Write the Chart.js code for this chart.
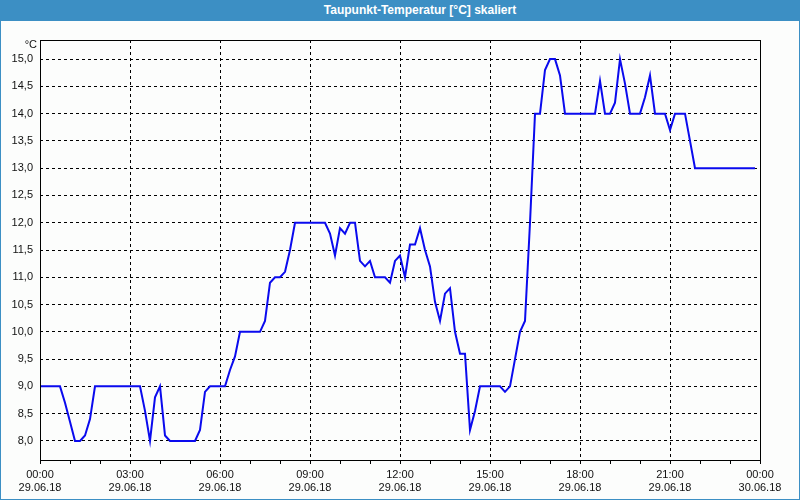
<!DOCTYPE html>
<html>
<head>
<meta charset="utf-8">
<script src="https://cdn.jsdelivr.net/npm/chart.js@4.4.1/dist/chart.umd.min.js"></script>
<style>
  html, body { margin: 0; padding: 0; }
  body { width: 800px; height: 500px; overflow: hidden; background: #fcfdfc; }
  #frame { position: absolute; left: 0; top: 0; width: 800px; height: 500px; box-sizing: border-box;
           border: 1px solid #3c8fc4; background: #fcfdfc; }
  #titlebar { position: absolute; left: 0; top: 0; width: 800px; height: 21px; background: #3c8fc4; }
  #title { position: absolute; left: 420px; top: 3px; transform: translateX(-50%); white-space: nowrap;
           font: bold 12px "Liberation Sans", Arial, sans-serif; color: #ffffff; }
  #unit { position: absolute; left: 23px; top: 38px; width: 14px; text-align: right;
          font: 11px "Liberation Sans", Arial, sans-serif; color: #111; }
  #c { position: absolute; left: 0; top: 0; }
</style>
</head>
<body>
<div id="frame"></div>
<canvas id="c" width="800" height="500"></canvas>
<div id="titlebar"><div id="title">Taupunkt-Temperatur [°C] skaliert</div></div>
<div id="unit">°C</div>
<script>
// Sampling: one value every 10 minutes from 29.06.18 00:00
const sampleMinutes = 10;
const dewPoint = [
  9.0, 9.0, 9.0, 9.0, 9.0, 8.7, 8.35, 8.0, 8.0, 8.1, 8.4,
  9.0, 9.0, 9.0, 9.0, 9.0, 9.0, 9.0, 9.0, 9.0, 9.0,
  8.55, 8.0, 8.8, 9.0, 8.1,
  8.0, 8.0, 8.0, 8.0, 8.0, 8.0,
  8.2, 8.9,
  9.0, 9.0, 9.0, 9.0,
  9.3, 9.55,
  10.0, 10.0, 10.0, 10.0, 10.0,
  10.2, 10.9, 11.0, 11.0, 11.1, 11.5,
  12.0, 12.0, 12.0, 12.0, 12.0, 12.0, 12.0,
  11.8, 11.4, 11.9, 11.8, 12.0, 12.0,
  11.3, 11.2, 11.3,
  11.0, 11.0, 11.0,
  10.9, 11.3, 11.4, 11.0, 11.6, 11.6, 11.9, 11.5, 11.2,
  10.55, 10.2, 10.7, 10.8, 10.0, 9.6, 9.6, 8.2, 8.55,
  9.0, 9.0, 9.0, 9.0, 9.0,
  8.9, 9.0, 9.5, 10.0, 10.2, 12.0,
  14.0, 14.0, 14.8, 15.0, 15.0, 14.7,
  14.0, 14.0, 14.0, 14.0, 14.0, 14.0, 14.0,
  14.6, 14.0, 14.0, 14.2, 15.0, 14.55,
  14.0, 14.0, 14.0,
  14.3, 14.7,
  14.0, 14.0, 14.0,
  13.7,
  14.0, 14.0, 14.0,
  13.5,
  13.0, 13.0, 13.0, 13.0, 13.0, 13.0, 13.0, 13.0, 13.0, 13.0, 13.0, 13.0, 13.0
];
const xTickHours = [0,1,2,3,4,5,6,7,8,9,10,11,12,13,14,15,16,17,18,19,20,21,22,23,24];
const xLabelTimes = {0:'00:00',3:'03:00',6:'06:00',9:'09:00',12:'12:00',15:'15:00',18:'18:00',21:'21:00',24:'00:00'};
const xLabelDates = {0:'29.06.18',3:'29.06.18',6:'29.06.18',9:'29.06.18',12:'29.06.18',15:'29.06.18',18:'29.06.18',21:'29.06.18',24:'30.06.18'};
const yTicks = [8.0, 8.5, 9.0, 9.5, 10.0, 10.5, 11.0, 11.5, 12.0, 12.5, 13.0, 13.5, 14.0, 14.5, 15.0];
const yMin = 7.65, yMax = 15.35;

const points = dewPoint.map((v, i) => ({ x: i * sampleMinutes / 60, y: v }));
const FONT = { family: '"Liberation Sans", Arial, sans-serif', size: 11 };

const frameBox = {
  id: 'frameBox',
  afterDatasetsDraw(chart) {
    const a = chart.chartArea, ctx = chart.ctx;
    ctx.save();
    ctx.strokeStyle = '#000';
    ctx.lineWidth = 1;
    ctx.strokeRect(a.left + 0.5, a.top + 0.5, a.right - a.left, a.bottom - a.top);
    ctx.restore();
  }
};

new Chart(document.getElementById('c'), {
  type: 'line',
  data: {
    datasets: [{
      data: points,
      borderColor: '#0a0aee',
      borderWidth: 2,
      pointRadius: 0,
      tension: 0,
      fill: false
    }]
  },
  options: {
    responsive: false,
    animation: false,
    events: [],
    layout: { padding: { top: 40, right: 40, left: 0, bottom: 0 } },
    plugins: { legend: { display: false }, tooltip: { enabled: false }, title: { display: false } },
    scales: {
      x: {
        type: 'linear',
        min: 0, max: 24,
        afterBuildTicks: (s) => { s.ticks = xTickHours.map(v => ({ value: v })); },
        afterFit: (s) => { s.height = 40; },
        grid: {
          color: (ctx) => {
            const v = ctx.tick ? ctx.tick.value : null;
            return (v !== null && v % 3 === 0 && v > 0 && v < 24) ? '#000' : 'rgba(0,0,0,0)';
          },
          lineWidth: 1,
          drawTicks: true,
          tickLength: 4,
          tickColor: '#000',
          tickBorderDash: []
        },
        border: { display: false, dash: [3, 3] },
        ticks: {
          autoSkip: false,
          maxRotation: 0,
          minRotation: 0,
          padding: 4,
          color: '#111',
          font: FONT,
          callback: (v) => xLabelTimes[v] !== undefined ? [xLabelTimes[v], xLabelDates[v]] : ''
        }
      },
      y: {
        min: yMin, max: yMax,
        afterBuildTicks: (s) => { s.ticks = yTicks.map(v => ({ value: v })); },
        afterFit: (s) => { s.width = 40; },
        grid: { color: '#000', lineWidth: 1, drawTicks: false },
        border: { display: false, dash: [3, 3] },
        ticks: {
          padding: 7,
          color: '#111',
          font: FONT,
          callback: (v) => v.toFixed(1).replace('.', ',')
        }
      }
    }
  },
  plugins: [frameBox]
});
</script>
</body>
</html>
